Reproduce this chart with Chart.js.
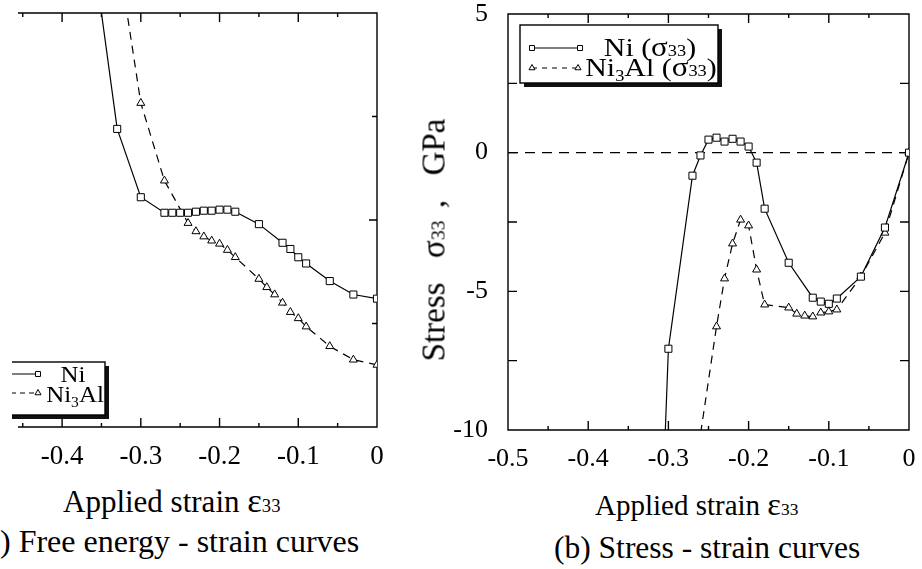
<!DOCTYPE html>
<html>
<head>
<meta charset="utf-8">
<script src="https://cdn.jsdelivr.net/npm/chart.js@4.4.1/dist/chart.umd.min.js"></script>
<style>
  html, body { margin: 0; padding: 0; background: #fff; }
  body { width: 922px; height: 569px; position: relative; overflow: hidden;
         font-family: "Liberation Serif", "Times New Roman", serif; color: #000; }
  .box { position: absolute; }
  .txt { position: absolute; white-space: nowrap; line-height: 1; }
  .eps { font-size: 1.12em; line-height: 0; }
  .idx { font-size: 0.6em; line-height: 0; }
  #ytitle { left: 434px; top: 240px; font-size: 33px; word-spacing: 4px;
            transform: translate(-50%, -50%) rotate(-90deg); }
</style>
</head>
<body>

<div class="box" style="left:12px;top:0;width:390px;height:480px"><canvas id="energyChart"></canvas></div>
<div class="box" style="left:420px;top:0;width:502px;height:480px"><canvas id="stressChart"></canvas></div>

<div class="txt" style="left:63px;top:486px;font-size:31px">Applied strain <span class="eps">ε</span><span class="idx">33</span></div>
<div class="txt" style="left:0;top:525px;font-size:32px">) Free energy - strain curves</div>

<div class="txt" style="left:595px;top:491px;font-size:29px">Applied strain <span class="eps">ε</span><span class="idx">33</span></div>
<div class="txt" style="left:554px;top:532px;font-size:31.5px">(b) Stress - strain curves</div>
<div class="txt" id="ytitle">Stress&nbsp;&nbsp;σ<span class="idx">33</span> ,&nbsp;&nbsp;GPa</div>

<script>
// ---- data ----
const seriesNames = ["Ni", "Ni3Al"];

// (a) free energy vs applied strain (arbitrary units, axis cut off in the scan)
const feStrainNi = [-0.36, -0.33, -0.30, -0.27, -0.26, -0.25, -0.24, -0.23, -0.22, -0.21, -0.20, -0.19, -0.18, -0.15, -0.12, -0.11, -0.10, -0.09, -0.06, -0.03, 0];
const feNi = [4.56, 2.88, 2.22, 2.07, 2.07, 2.07, 2.07, 2.08, 2.09, 2.09, 2.10, 2.10, 2.08, 1.96, 1.78, 1.72, 1.64, 1.58, 1.41, 1.28, 1.24];
const feStrainNi3Al = [-0.33, -0.30, -0.27, -0.24, -0.23, -0.22, -0.21, -0.20, -0.19, -0.18, -0.15, -0.14, -0.13, -0.12, -0.11, -0.10, -0.09, -0.06, -0.03, 0];
const feNi3Al = [4.62, 3.13, 2.38, 1.97, 1.89, 1.84, 1.80, 1.77, 1.71, 1.64, 1.43, 1.35, 1.28, 1.20, 1.11, 1.05, 0.97, 0.78, 0.65, 0.60];

// (b) stress sigma33 (GPa) vs applied strain
const ssStrainNi = [-0.33, -0.30, -0.27, -0.26, -0.25, -0.24, -0.23, -0.22, -0.21, -0.20, -0.19, -0.18, -0.15, -0.12, -0.11, -0.10, -0.09, -0.06, -0.03, 0];
const stressNi = [-30, -7.07, -0.83, -0.1, 0.47, 0.54, 0.40, 0.50, 0.40, 0.22, -0.36, -2.02, -3.97, -5.23, -5.37, -5.45, -5.26, -4.47, -2.70, 0];
const ssStrainNi3Al = [-0.27, -0.24, -0.23, -0.22, -0.21, -0.20, -0.19, -0.18, -0.15, -0.14, -0.13, -0.12, -0.11, -0.10, -0.09, -0.06, -0.03, 0];
const stressNi3Al = [-12.1, -6.27, -4.54, -3.28, -2.42, -2.63, -4.22, -5.48, -5.59, -5.81, -5.88, -5.91, -5.77, -5.73, -5.66, -4.47, -2.89, 0];

// ticks
const xTicks = [-0.5, -0.4, -0.3, -0.2, -0.1, 0];
const xMinorTicks = [-0.45, -0.35, -0.25, -0.15, -0.05];
const stressTicks = [-10, -5, 0, 5];
const stressMinorTicks = [-7.5, -2.5, 2.5];
const energyTicks = [0, 2, 4];
const energyMinorTicks = [1, 3];

const pts = (xs, ys) => xs.map((x, i) => ({ x: x, y: ys[i] }));
const font = "'Liberation Serif', 'Times New Roman', serif";
Chart.defaults.font.family = font;
Chart.defaults.color = "#000";

// box around the plot + inward ticks (+ dashed zero line)
const frame = {
  id: "frame",
  beforeDatasetsDraw(chart, args, o) {
    const { ctx, chartArea: a, scales: { x, y } } = chart;
    ctx.save();
    ctx.strokeStyle = "#000";
    ctx.lineWidth = 1.4;
    ctx.beginPath();
    if (o.leftEdge) {
      ctx.rect(a.left, a.top, a.right - a.left, a.bottom - a.top);
    } else {
      ctx.moveTo(a.left, a.top); ctx.lineTo(a.right, a.top);
      ctx.lineTo(a.right, a.bottom); ctx.lineTo(a.left, a.bottom);
    }
    const inX = v => v >= x.min - 1e-9 && v <= x.max + 1e-9;
    const inY = v => v >= y.min - 1e-9 && v <= y.max + 1e-9;
    const xt = (v, len) => {
      const p = x.getPixelForValue(v);
      ctx.moveTo(p, a.bottom); ctx.lineTo(p, a.bottom - len);
      ctx.moveTo(p, a.top); ctx.lineTo(p, a.top + len);
    };
    const yt = (v, len) => {
      const p = y.getPixelForValue(v);
      if (o.leftEdge) { ctx.moveTo(a.left, p); ctx.lineTo(a.left + len, p); }
      ctx.moveTo(a.right, p); ctx.lineTo(a.right - len, p);
    };
    o.xMajor.filter(inX).forEach(v => xt(v, o.xLen[0]));
    o.xMinor.filter(inX).forEach(v => xt(v, o.xLen[1]));
    o.yMajor.filter(inY).forEach(v => yt(v, o.yLen[0]));
    o.yMinor.filter(inY).forEach(v => yt(v, o.yLen[1]));
    ctx.stroke();
    if (o.zeroLine) {
      const p = y.getPixelForValue(0);
      ctx.lineWidth = 1.3;
      ctx.setLineDash([10, 7]);
      ctx.beginPath();
      ctx.moveTo(a.left, p); ctx.lineTo(a.right, p);
      ctx.stroke();
    }
    ctx.restore();
  }
};

// write text made of runs: [text, size, dy], stretched sideways by sx
function drawRuns(ctx, runs, cx, base, sx) {
  let w = 0;
  runs.forEach(r => { ctx.font = r[1] + "px " + font; w += ctx.measureText(r[0]).width * sx; });
  let x = cx - w / 2;
  runs.forEach(r => {
    ctx.font = r[1] + "px " + font;
    ctx.save();
    ctx.translate(x, base + (r[2] || 0));
    ctx.scale(sx, 1);
    ctx.fillText(r[0], 0, 0);
    ctx.restore();
    x += ctx.measureText(r[0]).width * sx;
  });
}

// framed legend with drop shadow, like the original figure
const boxLegend = {
  id: "boxLegend",
  afterDraw(chart, args, o) {
    const ctx = chart.ctx;
    const [x1, y1, x2, y2] = o.box;
    ctx.save();
    ctx.fillStyle = "#111";
    ctx.fillRect(x1 + 4, y1 + 4, x2 - x1, y2 - y1);
    ctx.fillStyle = "#fff";
    ctx.fillRect(x1, y1, x2 - x1, y2 - y1);
    ctx.strokeStyle = "#000";
    ctx.lineWidth = 1.4;
    ctx.strokeRect(x1, y1, x2 - x1, y2 - y1);
    o.rows.forEach(r => {
      ctx.lineWidth = 1.2;
      ctx.setLineDash(r.dash || []);
      ctx.beginPath();
      ctx.moveTo(r.from, r.y); ctx.lineTo(r.to, r.y);
      ctx.stroke();
      ctx.setLineDash([]);
      ctx.lineWidth = 1;
      ctx.fillStyle = "#fff";
      const mk = { pointStyle: r.marker, radius: 3.5, rotation: 0, borderWidth: 1 };
      if (r.both) Chart.helpers.drawPoint(ctx, mk, r.from, r.y);
      Chart.helpers.drawPoint(ctx, mk, r.to, r.y);
      ctx.fillStyle = "#000";
      ctx.textBaseline = "alphabetic";
      drawRuns(ctx, r.runs, r.textX, r.base, o.stretch);
    });
    ctx.restore();
  }
};

function lineSet(label, data, dashed) {
  return {
    label: label,
    data: data,
    showLine: true,
    tension: 0,
    borderColor: "#000",
    borderWidth: 1.2,
    borderDash: dashed ? [8, 6] : [],
    pointStyle: dashed ? "triangle" : "rect",
    pointRadius: dashed ? 4.6 : 5,
    pointBackgroundColor: "#fff",
    pointBorderColor: "#000",
    pointBorderWidth: 1
  };
}

function xScale(min, size, pad, height) {
  return {
    type: "linear",
    min: min,
    max: 0,
    afterBuildTicks: s => { s.ticks = xTicks.filter(v => v >= s.min - 1e-9).map(v => ({ value: v })); },
    afterFit: s => { s.height = height; s.paddingLeft = 0; s.paddingRight = 0; },
    ticks: { callback: v => String(v), font: { size: size }, padding: pad, autoSkip: false, maxRotation: 0 },
    grid: { display: false, drawTicks: false },
    border: { display: false }
  };
}

// ------- (a) free energy - strain -------
new Chart(document.getElementById("energyChart"), {
  type: "scatter",
  data: {
    datasets: [
      lineSet(seriesNames[0], pts(feStrainNi, feNi), false),
      lineSet(seriesNames[1], pts(feStrainNi3Al, feNi3Al), true)
    ]
  },
  options: {
    animation: false,
    responsive: true,
    maintainAspectRatio: false,
    layout: { padding: { left: 0, right: 25, top: 13, bottom: 0 } },
    plugins: {
      legend: { display: false },
      tooltip: { enabled: false },
      frame: { xMajor: xTicks, xMinor: xMinorTicks, yMajor: energyTicks, yMinor: energyMinorTicks,
               xLen: [9, 4], yLen: [8, 5], leftEdge: false },
      boxLegend: {
        box: [-10, 362, 93, 415],
        stretch: 1.04,
        rows: [
          { y: 374, from: -10, to: 26, marker: "rect", both: false,
            runs: [["Ni", 24]], textX: 61, base: 382 },
          { y: 393, from: -10, to: 26, marker: "triangle", both: false, dash: [5, 4],
            runs: [["Ni", 24], ["3", 15, 5], ["Al", 24]], textX: 63, base: 402 }
        ]
      }
    },
    scales: {
      x: xScale(-0.456, 27, 14, 53),
      y: { type: "linear", display: false, min: 0, max: 4 }
    }
  },
  plugins: [frame, boxLegend]
});

// ------- (b) stress - strain -------
new Chart(document.getElementById("stressChart"), {
  type: "scatter",
  data: {
    datasets: [
      lineSet(seriesNames[0], pts(ssStrainNi, stressNi), false),
      lineSet(seriesNames[1], pts(ssStrainNi3Al, stressNi3Al), true)
    ]
  },
  options: {
    animation: false,
    responsive: true,
    maintainAspectRatio: false,
    layout: { padding: { left: 0, right: 13, top: 14, bottom: 0 } },
    plugins: {
      legend: { display: false },
      tooltip: { enabled: false },
      frame: { xMajor: xTicks, xMinor: xMinorTicks, yMajor: stressTicks, yMinor: stressMinorTicks,
               xLen: [9, 4], yLen: [9, 9], leftEdge: true, zeroLine: true },
      boxLegend: {
        box: [100, 25, 298, 83],
        stretch: 1.15,
        rows: [
          { y: 48, from: 112, to: 160, marker: "rect", both: true,
            runs: [["Ni (", 26], ["σ", 27], ["33", 16], [")", 26]], textX: 230, base: 56 },
          { y: 68, from: 112, to: 158, marker: "triangle", both: true, dash: [5, 5],
            runs: [["Ni", 26], ["3", 16, 5], ["Al (", 26], ["σ", 27], ["33", 16], [")", 26]], textX: 231, base: 76 }
        ]
      }
    },
    scales: {
      x: xScale(-0.5, 26, 14, 50),
      y: {
        type: "linear",
        min: -10,
        max: 5,
        afterBuildTicks: s => { s.ticks = stressTicks.map(v => ({ value: v })); },
        afterFit: s => { s.width = 88; s.paddingTop = 0; s.paddingBottom = 0; },
        ticks: { callback: v => String(v), font: { size: 26 }, padding: 20, autoSkip: false },
        grid: { display: false, drawTicks: false },
        border: { display: false }
      }
    }
  },
  plugins: [frame, boxLegend]
});
</script>
</body>
</html>
